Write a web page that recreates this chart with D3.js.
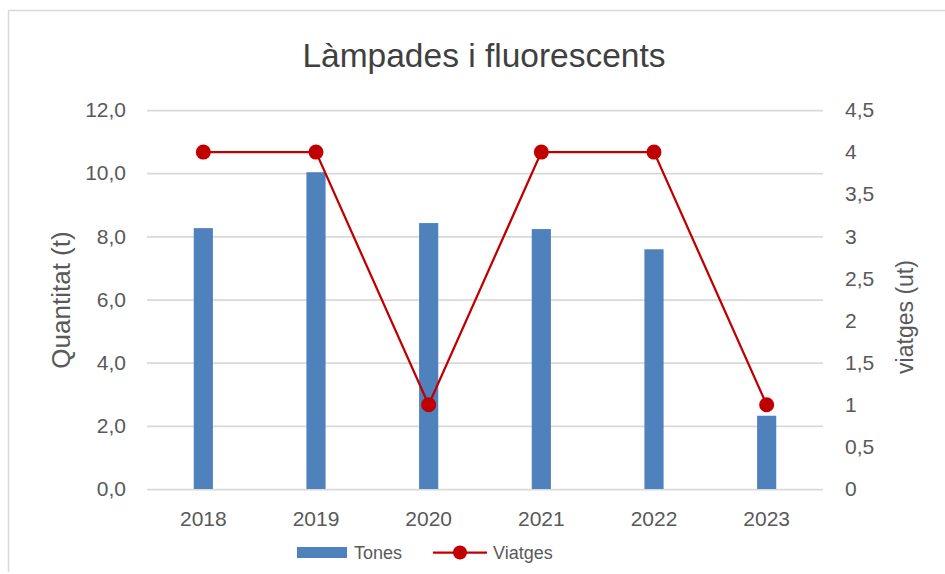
<!DOCTYPE html>
<html>
<head>
<meta charset="utf-8">
<script src="https://cdn.jsdelivr.net/npm/d3@7"></script>
<style>
  body { margin: 0; background: #fff; }
  svg text { font-family: "Liberation Sans", Arial, sans-serif; fill: #595959; }
</style>
</head>
<body>
<div id="chart"></div>
<script>
// data
var years = ["2018", "2019", "2020", "2021", "2022", "2023"];
var tones = [8.26, 10.03, 8.42, 8.23, 7.59, 2.32];
var viatges = [4, 4, 1, 4, 4, 1];
var leftTicks = [0, 2, 4, 6, 8, 10, 12];
var rightTicks = [0, 0.5, 1, 1.5, 2, 2.5, 3, 3.5, 4, 4.5];

var width = 945;
var height = 574;
var margin = {top: 110, right: 122, bottom: 85, left: 147};

var svg = d3.select("#chart")
    .append("svg")
    .attr("width", width)
    .attr("height", height);

var locale = d3.formatLocale({decimal: ",", thousands: ".", grouping: [3], currency: ["", "€"]});
var fmtLeft = locale.format(".1f");
var fmtRight = locale.format("~g");

var x = d3.scaleBand()
    .domain(years)
    .range([margin.left, width - margin.right])
    .paddingInner(0.83)
    .paddingOuter(0.415);

var yLeft = d3.scaleLinear().domain([0, 12]).range([height - margin.bottom, margin.top]);
var yRight = d3.scaleLinear().domain([0, 4.5]).range([height - margin.bottom, margin.top]);

// outer chart border (only left & top visible)
svg.append("path")
    .attr("d", "M8.5,572 L8.5,10.5 L945,10.5")
    .attr("fill", "none")
    .attr("stroke", "#d9d9d9")
    .attr("stroke-width", 1.5);

// title
svg.append("text")
    .attr("x", 484)
    .attr("y", 67)
    .attr("text-anchor", "middle")
    .style("font-size", "33.5px")
    .style("fill", "#404040")
    .text("Làmpades i fluorescents");

// left axis + grid
var gLeft = svg.append("g")
    .attr("transform", "translate(" + margin.left + ",0)")
    .call(d3.axisLeft(yLeft)
        .tickValues(leftTicks)
        .tickFormat(fmtLeft)
        .tickSize(-(width - margin.left - margin.right))
        .tickPadding(21));
gLeft.select(".domain").remove();
gLeft.selectAll("line").attr("stroke", "#d9d9d9").attr("stroke-width", 1.75);
gLeft.selectAll("text").style("font-size", "21px").attr("fill", null);

// right axis
var gRight = svg.append("g")
    .attr("transform", "translate(" + (width - margin.right) + ",0)")
    .call(d3.axisRight(yRight)
        .tickValues(rightTicks)
        .tickFormat(fmtRight)
        .tickSize(0)
        .tickPadding(22));
gRight.select(".domain").remove();
gRight.selectAll("text").style("font-size", "21px").attr("fill", null);

// x axis labels
var gX = svg.append("g")
    .attr("transform", "translate(0," + (height - margin.bottom) + ")")
    .call(d3.axisBottom(x).tickSize(0).tickPadding(22));
gX.select(".domain").remove();
gX.selectAll("text").style("font-size", "21px").attr("fill", null);

// bars
svg.selectAll(".bar")
    .data(years)
    .enter().append("rect")
    .attr("class", "bar")
    .attr("x", function(d){ return x(d); })
    .attr("width", x.bandwidth())
    .attr("y", function(d, i){ return yLeft(tones[i]); })
    .attr("height", function(d, i){ return yLeft(0) - yLeft(tones[i]); })
    .attr("fill", "#4f81bd");

// line
var cx = function(d){ return x(d) + x.bandwidth() / 2; };
var line = d3.line()
    .x(function(d){ return cx(d); })
    .y(function(d, i){ return yRight(viatges[i]); });

svg.append("path")
    .datum(years)
    .attr("d", line)
    .attr("fill", "none")
    .attr("stroke", "#c00000")
    .attr("stroke-width", 2.25);

svg.selectAll(".dot")
    .data(years)
    .enter().append("circle")
    .attr("class", "dot")
    .attr("cx", cx)
    .attr("cy", function(d, i){ return yRight(viatges[i]); })
    .attr("r", 7.5)
    .attr("fill", "#c00000");

// axis titles
svg.append("text")
    .attr("transform", "translate(70,300) rotate(-90)")
    .attr("text-anchor", "middle")
    .style("font-size", "26px")
    .text("Quantitat (t)");

svg.append("text")
    .attr("transform", "translate(913,317) rotate(-90)")
    .attr("text-anchor", "middle")
    .style("font-size", "23px")
    .text("viatges (ut)");

// legend
var legend = svg.append("g");
legend.append("rect")
    .attr("x", 297).attr("y", 547)
    .attr("width", 50).attr("height", 11)
    .attr("fill", "#4f81bd");
legend.append("text")
    .attr("x", 354).attr("y", 559)
    .style("font-size", "18px")
    .text("Tones");
legend.append("line")
    .attr("x1", 433).attr("x2", 487)
    .attr("y1", 552.5).attr("y2", 552.5)
    .attr("stroke", "#c00000").attr("stroke-width", 2.25);
legend.append("circle")
    .attr("cx", 460).attr("cy", 552.5).attr("r", 7)
    .attr("fill", "#c00000");
legend.append("text")
    .attr("x", 493).attr("y", 559)
    .style("font-size", "18px")
    .text("Viatges");
</script>
</body>
</html>
